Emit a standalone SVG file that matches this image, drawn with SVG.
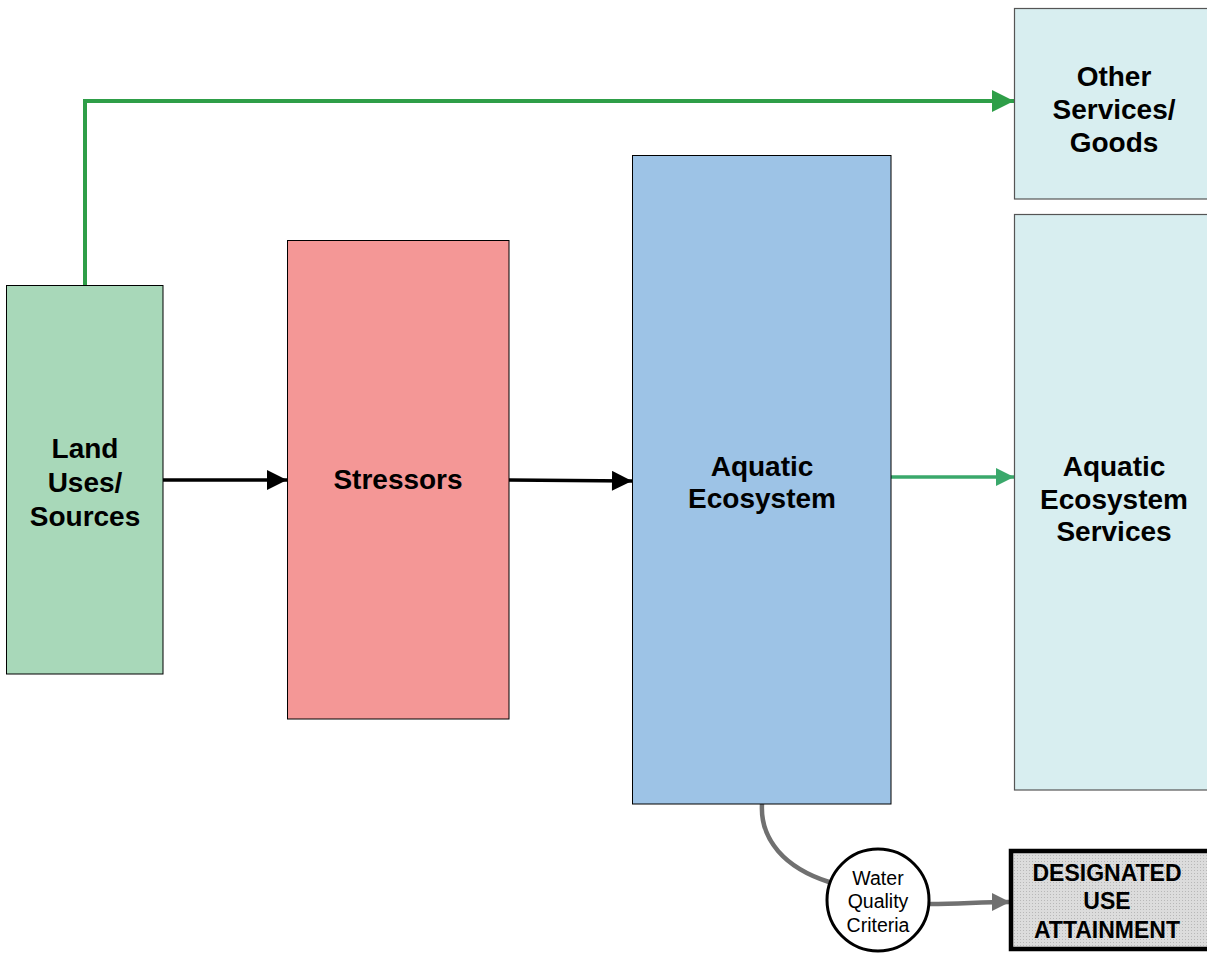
<svg xmlns="http://www.w3.org/2000/svg" width="1207" height="953" viewBox="0 0 1207 953">
  <defs>
    <style>
      .lbl { font-family: "Liberation Sans", Arial, sans-serif; font-weight: bold; font-size: 28px; fill: #000; text-anchor: middle; dominant-baseline: central; }
      .dua { font-family: "Liberation Sans", Arial, sans-serif; font-weight: bold; font-size: 23px; fill: #000; text-anchor: middle; dominant-baseline: central; }
      .wqc { font-family: "Liberation Sans", Arial, sans-serif; font-size: 19.5px; fill: #000; text-anchor: middle; dominant-baseline: central; }
      .box { stroke: #000; stroke-width: 1; }
      .svc { fill: #d8eef0; stroke: #555; stroke-width: 1.2; }
    </style>
    <pattern id="dots" width="3" height="3" patternUnits="userSpaceOnUse">
      <rect width="3" height="3" fill="#dcdcdc"/>
      <rect width="1" height="1" fill="#b8b8b8"/>
    </pattern>
    <marker id="arrBlack" viewBox="0 0 10 10" refX="10" refY="5" markerWidth="22" markerHeight="20" markerUnits="userSpaceOnUse" orient="auto">
      <path d="M0,0 L10,5 L0,10 z" fill="#000"/>
    </marker>
    <marker id="arrGreen" viewBox="0 0 10 10" refX="10" refY="5" markerWidth="22" markerHeight="22" markerUnits="userSpaceOnUse" orient="auto">
      <path d="M0,0 L10,5 L0,10 z" fill="#2e9e48"/>
    </marker>
    <marker id="arrTeal" viewBox="0 0 10 10" refX="10" refY="5" markerWidth="18" markerHeight="20" markerUnits="userSpaceOnUse" orient="auto">
      <path d="M0,0 L10,5 L0,10 z" fill="#3aa86b"/>
    </marker>
    <marker id="arrGray" viewBox="0 0 10 10" refX="10" refY="5" markerWidth="20" markerHeight="18" markerUnits="userSpaceOnUse" orient="auto">
      <path d="M0,0 L10,5 L0,10 z" fill="#707070"/>
    </marker>
  </defs>

  <rect width="1207" height="953" fill="#fff"/>

  <g id="connectors" fill="none">
    <polyline points="85,285 85,101 1014,101" stroke="#2e9e48" stroke-width="4" marker-end="url(#arrGreen)"/>
    <line x1="163" y1="480" x2="287" y2="480" stroke="#000" stroke-width="3.5" marker-end="url(#arrBlack)"/>
    <line x1="509" y1="480" x2="632" y2="481" stroke="#000" stroke-width="3.5" marker-end="url(#arrBlack)"/>
    <line x1="891" y1="477" x2="1014" y2="477" stroke="#3aa86b" stroke-width="3.5" marker-end="url(#arrTeal)"/>
    <path d="M762,804 C760,840 785,868 829,882" stroke="#707070" stroke-width="4.5"/>
    <path d="M930,904 C960,904 980,902 1010,902" stroke="#707070" stroke-width="4.5" marker-end="url(#arrGray)"/>
  </g>

  <g id="land-uses">
    <rect class="box" x="6.5" y="285.5" width="156.5" height="388.5" fill="#a8d8b9"/>
    <text class="lbl" x="85" y="448">Land</text>
    <text class="lbl" x="85" y="482">Uses/</text>
    <text class="lbl" x="85" y="516">Sources</text>
  </g>

  <g id="stressors">
    <rect class="box" x="287.5" y="240.5" width="221.5" height="478.5" fill="#f49796"/>
    <text class="lbl" x="398" y="479">Stressors</text>
  </g>

  <g id="aquatic-ecosystem">
    <rect class="box" x="632.5" y="155.5" width="258.5" height="648.5" fill="#9dc3e6"/>
    <text class="lbl" x="762" y="466">Aquatic</text>
    <text class="lbl" x="762" y="498">Ecosystem</text>
  </g>

  <g id="other-services">
    <rect class="svc" x="1014.5" y="8.5" width="200" height="190.5"/>
    <text class="lbl" x="1114" y="76">Other</text>
    <text class="lbl" x="1114" y="109">Services/</text>
    <text class="lbl" x="1114" y="142">Goods</text>
  </g>

  <g id="ecosystem-services">
    <rect class="svc" x="1014.5" y="214.5" width="200" height="575.5"/>
    <text class="lbl" x="1114" y="466">Aquatic</text>
    <text class="lbl" x="1114" y="499">Ecosystem</text>
    <text class="lbl" x="1114" y="531">Services</text>
  </g>

  <g id="water-quality-criteria">
    <circle cx="878" cy="900" r="51" fill="#fff" stroke="#000" stroke-width="3"/>
    <text class="wqc" x="878" y="878">Water</text>
    <text class="wqc" x="878" y="901">Quality</text>
    <text class="wqc" x="878" y="925">Criteria</text>
  </g>

  <g id="designated-use">
    <rect x="1011" y="851" width="210" height="98" fill="url(#dots)" stroke="#000" stroke-width="4.5"/>
    <text class="dua" x="1107" y="873">DESIGNATED</text>
    <text class="dua" x="1107" y="901">USE</text>
    <text class="dua" x="1107" y="930">ATTAINMENT</text>
  </g>
</svg>
